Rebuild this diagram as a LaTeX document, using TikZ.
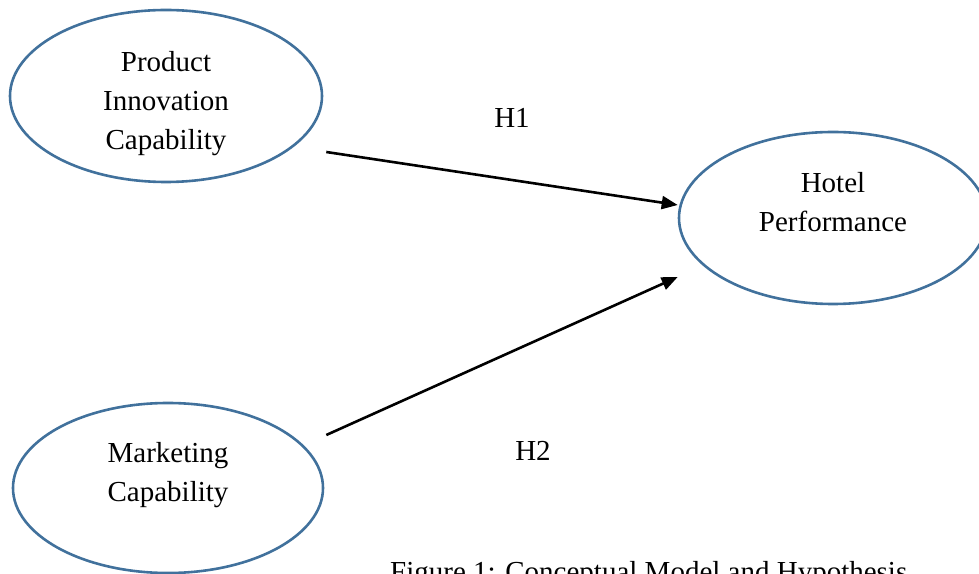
\documentclass[tikz,border=0pt]{standalone}
\usepackage{fontspec}
\setmainfont{Liberation Serif}
\usepackage{xcolor}
\usepackage{tikz}
\usetikzlibrary{arrows.meta, positioning, shapes.geometric}

\definecolor{wordblue}{RGB}{65,113,156}
\newcommand{\toppad}{\rule{0pt}{36pt}}
\newcommand{\botpad}{\rule[-33pt]{0pt}{0pt}}

\begin{document}
\begin{tikzpicture}[x=1pt, y=1pt,
      construct/.style={draw=wordblue, line width=2.6pt, ellipse, inner sep=0pt, align=center, font=\fontsize{29}{39}\selectfont},
      arr/.style={-{Triangle[length=16pt, width=13pt]}, line width=2.6pt},
      lbl/.style={font=\fontsize{29}{35}\selectfont, inner sep=0pt},
    ]
    \clip (0,0) rectangle (979,573);
    % Nodes
    \node[construct, minimum width=312pt, minimum height=172pt] (innov) at (166,477) {\toppad Product\\Innovation\\Capability};
    \node[construct, minimum width=308pt, minimum height=172pt] (hotel) at (833,355) {Hotel\\Performance\botpad};
    \node[construct, minimum width=310pt, minimum height=170pt] (mkt) at (168,85) {Marketing\\Capability\botpad};
    \node[lbl] (h1) at (512,455) {H1};
    \node[lbl] (h2) at (533,122) {H2};
    \node[lbl, anchor=base west] (caption) at (390,-8) {Figure 1: Conceptual Model and Hypothesis};

    % Paths
    \draw[arr] ([shift={(3,-56)}]innov.east) -- ([yshift=13]hotel.west);
    \draw[arr] ([shift={(2,53)}]mkt.east) -- ([yshift=-59]hotel.west);
  \end{tikzpicture}
\end{document}
